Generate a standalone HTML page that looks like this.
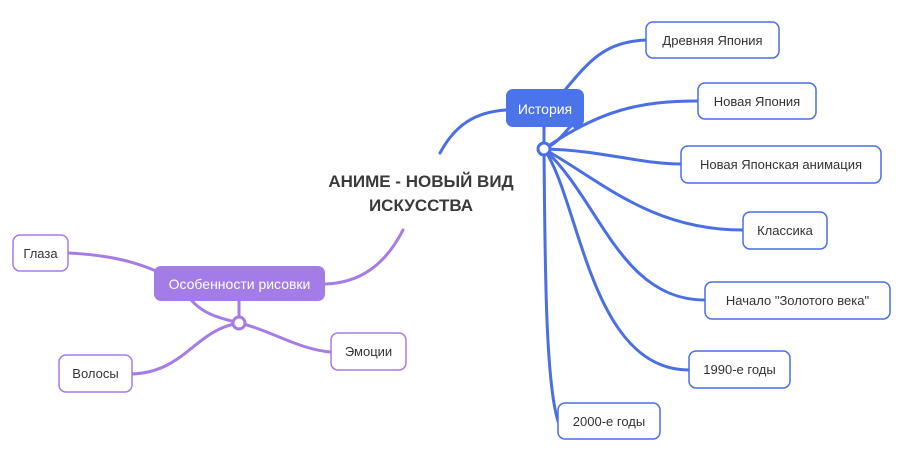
<!DOCTYPE html>
<html><head><meta charset="utf-8"><style>
body{margin:0;background:#fff;width:906px;height:454px;overflow:hidden}
svg{display:block}
text{font-family:"Liberation Sans","DejaVu Sans",sans-serif}
</style></head><body>
<svg width="906" height="454" viewBox="0 0 906 454">
<g fill="none" stroke="#4a6fe3" stroke-width="3" stroke-linecap="round">
<path d="M440 153 C455 125 475 112 506 110"/>
<path d="M565 90 C590 60 605 42 646 40"/>
<path d="M544 149 L544 127"/>
<path d="M544 149 C565 140 570 120 575 127"/>
<path d="M544 149 C600 110 640 101 698 101"/>
<path d="M544 149 C600 150 640 164 681 164"/>
<path d="M544 149 C600 180 650 230 743 230"/>
<path d="M544 149 C600 200 620 300 705 300"/>
<path d="M544 149 C580 200 590 370 689 370"/>
<path d="M544 149 C545 250 545 380 558 421"/>
</g>
<circle cx="544" cy="149" r="6" fill="#fff" stroke="#4a6fe3" stroke-width="3"/>
<g fill="none" stroke="#a57be6" stroke-width="3" stroke-linecap="round">
<path d="M403 230 C385 265 360 283 325 284"/>
<path d="M68 253 C110 255 135 262 156 271"/>
<path d="M192 301 C205 315 220 318 239 323 C270 330 300 350 331 352"/>
<path d="M132 374 C185 372 195 330 239 323"/>
<path d="M239 301 L239 323"/>
</g>
<circle cx="239" cy="323" r="6" fill="#fff" stroke="#a57be6" stroke-width="3"/>
<rect x="506" y="89" width="78" height="38" rx="7" fill="#4b73ea"/>
<text x="545" y="114" font-size="14" fill="#fff" text-anchor="middle">История</text>
<rect x="154" y="266" width="171" height="35" rx="7" fill="#a47ce7"/>
<text x="239.5" y="289" font-size="14" fill="#fff" text-anchor="middle">Особенности рисовки</text>
<text x="421" y="187" font-size="17" font-weight="bold" fill="#3a3a3a" text-anchor="middle">АНИМЕ - НОВЫЙ ВИД</text>
<text x="421" y="211" font-size="17" font-weight="bold" fill="#3a3a3a" text-anchor="middle">ИСКУССТВА</text>
<g fill="#fff" stroke="#4a6fe3" stroke-width="1.5">
<rect x="646" y="22" width="133" height="36" rx="7"/>
<rect x="698" y="83" width="118" height="36" rx="7"/>
<rect x="681" y="146" width="200" height="37" rx="7"/>
<rect x="743" y="212" width="84" height="37" rx="7"/>
<rect x="705" y="282" width="185" height="37" rx="7"/>
<rect x="689" y="351" width="101" height="37" rx="7"/>
<rect x="558" y="403" width="102" height="36" rx="7"/>
</g>
<g fill="#fff" stroke="#a57be6" stroke-width="1.5">
<rect x="13" y="235" width="55" height="36" rx="7"/>
<rect x="59" y="355" width="73" height="37" rx="7"/>
<rect x="331" y="333" width="75" height="37" rx="7"/>
</g>
<g font-size="13" fill="#333" text-anchor="middle">
<text x="712.5" y="45">Древняя Япония</text>
<text x="757" y="106">Новая Япония</text>
<text x="781" y="169">Новая Японская анимация</text>
<text x="785" y="235">Классика</text>
<text x="797.5" y="305">Начало "Золотого века"</text>
<text x="739.5" y="374">1990-е годы</text>
<text x="609" y="426">2000-е годы</text>
<text x="40.5" y="258">Глаза</text>
<text x="95.5" y="378">Волосы</text>
<text x="368.5" y="356">Эмоции</text>
</g>
</svg>
</body></html>
